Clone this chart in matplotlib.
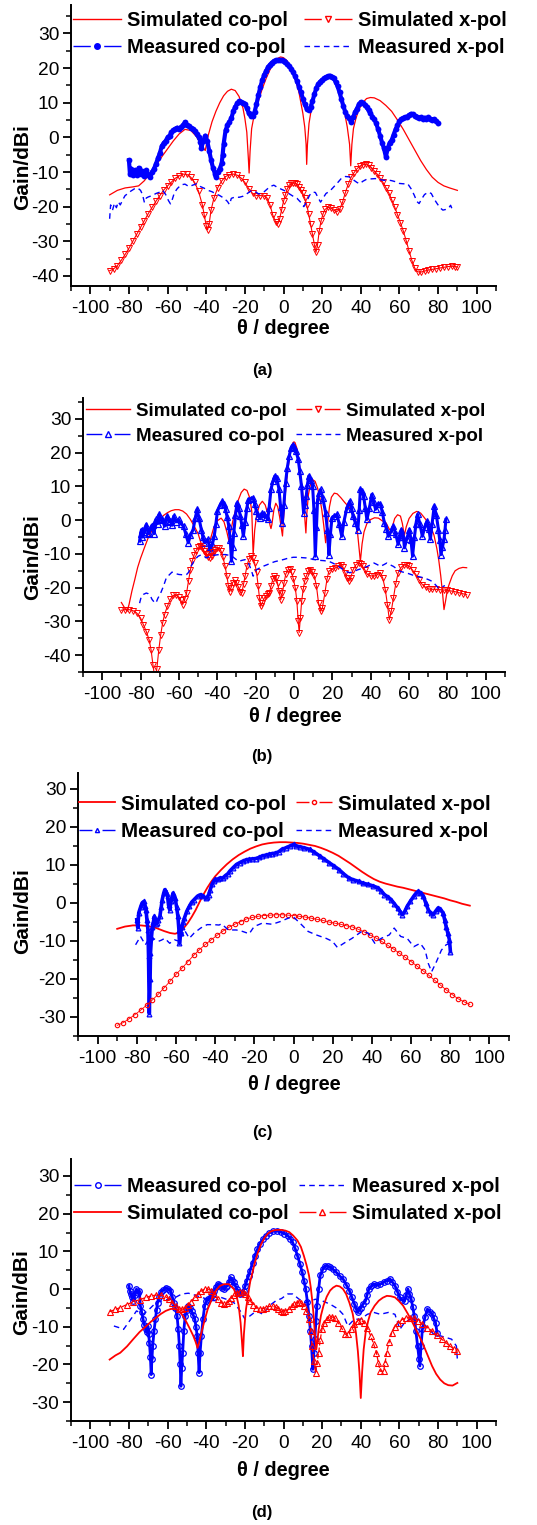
import matplotlib
matplotlib.use("Agg")
import matplotlib.pyplot as plt
from matplotlib.lines import Line2D
from matplotlib.ticker import MultipleLocator

W, H = 537, 1525
RED, BLUE = "#ff0000", "#0000ff"
plt.rcParams["font.family"] = ["Liberation Sans", "DejaVu Sans"]
plt.rcParams["axes.unicode_minus"] = False

# ---------------- panel (a) ----------------
A_SIM_CO = [(-90, -16.6), (-86, -15.3), (-82, -14.6), (-78, -14.3), (-75, -14.0), (-72, -12.5),
            (-69, -10.2), (-66, -8.1), (-63, -5.6), (-60, -3.3), (-57, -1.0), (-54, 1.0), (-51, 2.3),
            (-48, 2.0), (-45, 0.2), (-42, -2.8), (-40.5, -3.8), (-39, 0.5), (-37, 4.5), (-35, 7.5),
            (-33, 10.0), (-31, 12.0), (-29, 13.3), (-27, 13.9), (-25, 13.5), (-23, 11.8), (-21, 8.5),
            (-20, 5.5), (-19, 1.5), (-18.2, -6), (-17.8, -10.3), (-17.3, -4), (-16.5, 2.5), (-15, 7),
            (-13, 10.5), (-11, 14), (-9, 17), (-7, 19.5), (-5, 21.5), (-3, 22.8), (-1.5, 23.2), (0, 23),
            (2, 22), (4, 20), (6, 17), (8, 13), (10, 7), (11, 3), (11.7, -2), (12, -7.8), (12.4, -2),
            (13.2, 4), (14.5, 8.5), (16, 12), (18, 15), (20, 16.8), (22, 17.5), (24, 17.7), (26, 16.8),
            (28, 14.5), (30, 11), (31.5, 7.5), (33, 3), (34.2, -2), (34.8, -8.2), (35.4, -2), (36.2, 2.5),
            (37.5, 5.5), (39, 8), (41, 10), (43, 11.2), (45, 11.5), (47, 11.4), (50, 10.6), (53, 9.2),
            (56, 7.5), (59, 5), (62, 2.3), (65, -0.7), (68, -3.7), (71, -6.7), (74, -9.3), (77, -11.5),
            (80, -13), (83, -14), (86, -14.6), (90, -15.3)]

A_MEAS_CO = [(-80, -6.6), (-79.5, -10.5), (-79, -9), (-78, -11), (-77, -9.5), (-76, -10.8), (-75, -8.8),
             (-74, -10.5), (-73, -9.8), (-72, -11.2), (-71, -9.5), (-70, -10.8), (-69, -11.5), (-68, -10),
             (-67, -9), (-66, -7.6), (-65, -6), (-64, -4.5), (-63, -2.5), (-62, -1.6), (-61, -1), (-60, 0),
             (-59, 0.5), (-58, 1.5), (-57, 2), (-56, 2.5), (-55, 2.8), (-54, 2.3), (-53, 3), (-52, 3.5),
             (-51, 4.4), (-50, 3.5), (-49, 3.2), (-48, 2.8), (-47, 2.5), (-46, 1.7), (-45, 1), (-44, 0.2),
             (-43, -1.2), (-42.5, -3), (-41.5, -1), (-40.5, 0.5), (-39.5, -1), (-38.5, -3.8), (-37.5, -6.5),
             (-36.5, -8.8), (-35.5, -10.5), (-35, -11.5), (-34, -10), (-33, -9), (-32, -7.5), (-31.5, -5),
             (-31, -2), (-30, 2), (-29, 3.5), (-28, 4.5), (-27, 5.5), (-26, 7.5), (-25, 8.8), (-24, 9.8),
             (-23, 10.4), (-22, 10.3), (-21, 9.8), (-20, 9.5), (-19, 8.5), (-18, 7), (-17, 6.2), (-16, 6.3),
             (-15, 7.3), (-14, 9.5), (-13, 12.2), (-12, 14.5), (-11, 16.5), (-10, 18), (-9, 19.2),
             (-8, 20.3), (-7, 21), (-6, 21.6), (-5, 22), (-4, 22.2), (-3, 22.3), (-2, 22.3), (-1, 22.2),
             (0, 22), (1, 21.7), (2, 21.2), (3, 20.6), (4, 19.8), (5, 18.8), (6, 17.6), (7, 16.2), (8, 14.6),
             (9, 13), (10, 11.2), (11, 9.5), (12, 8.2), (13, 8.0), (14, 8.8), (15, 10.4), (16, 12.5),
             (17, 14.2), (18, 15.4), (19, 16.1), (20, 16.6), (21, 17), (22, 17.4), (23, 17.6), (24, 17.8),
             (25, 17.5), (26, 17), (27, 16), (28, 14.7), (29, 13), (30, 11), (31, 9), (32, 7.3), (33, 6.2),
             (34, 5.5), (35, 4.4), (36, 5.8), (37, 7.2), (38, 8.3), (39, 9.5), (40, 10.2), (41, 10),
             (42, 9.4), (43, 8.7), (44, 7.8), (45, 7), (46, 6), (47, 5.2), (48, 4), (49, 2.3), (50, 0.5),
             (51, -1.5), (52, -3.2), (53, -5.6), (54, -3), (55, -1.5), (56, -0.8), (57, 0.8), (58, 2.3),
             (59, 3.5), (60, 4.6), (61, 5.2), (62, 5.6), (63, 5.8), (64, 6), (65, 6.4), (66, 6.8),
             (67, 6.7), (68, 6.3), (69, 6), (70, 5.6), (71, 5.8), (72, 5.4), (73, 5.7), (74, 5.2),
             (75, 5.8), (76, 5.4), (77, 5.1), (78, 5.3), (79, 4.6), (80, 4.0)]

A_SIM_X = [(-90, -38.5), (-88, -38), (-86, -37), (-84, -35.5), (-82, -33.8), (-80, -32), (-78, -30),
           (-76, -28), (-74, -26), (-72, -24), (-70, -22), (-68, -20.2), (-66, -18.4), (-64, -16.8),
           (-62, -15.2), (-60, -14), (-58, -12.9), (-56, -11.8), (-54, -11.1), (-52, -10.6), (-50, -10.7),
           (-48, -11.5), (-46, -13), (-44, -15.5), (-42, -19.5), (-41, -22.5), (-40, -25.5), (-39.3, -26.7),
           (-38.5, -25), (-37.5, -21), (-36, -17.5), (-34, -14.5), (-32, -12.6), (-30, -11.3), (-28, -10.8),
           (-26, -10.6), (-24, -10.9), (-22, -11.7), (-20, -13), (-18, -14.8), (-16, -16.2), (-14, -16.8),
           (-12, -16.8), (-10, -16.9), (-8.5, -17.5), (-7, -19.5), (-5.5, -22.5), (-4, -24.5), (-3, -25),
           (-2, -23.5), (-1, -21), (0, -18.5), (1, -16.5), (2, -14.8), (3, -13.8), (4, -13.3), (5, -13.1),
           (6, -13.2), (7, -13.5), (8, -14.3), (9, -15.2), (10, -16.2), (11, -17.5), (12, -19.5), (13, -22),
           (14, -25), (15, -28), (16, -31), (16.8, -33.2), (17.6, -31), (18.5, -27), (19.5, -24),
           (20.5, -22), (21.5, -20.8), (23, -20.2), (24.5, -20.4), (26, -21), (27.5, -21.5), (29, -20.8),
           (30.5, -18.8), (32, -16), (33.5, -13.5), (35, -11.5), (36.5, -10.2), (38, -9.1), (39.5, -8.3),
           (41, -7.9), (42.5, -7.8), (44, -8.1), (45.5, -8.7), (47, -9.7), (48.5, -10.6), (50, -11.8),
           (51.5, -13), (53, -14.5), (54.5, -16), (56, -18), (57.5, -20), (59, -22.3), (60.5, -24.6),
           (62, -27), (63.5, -29.8), (65, -32.8), (66.5, -35.6), (68, -37.8), (69.5, -38.8), (71, -38.9),
           (73, -38.6), (75, -38.3), (77, -38.1), (79, -37.9), (81, -37.7), (83, -37.5), (85, -37.3),
           (87, -37.2), (89, -37.3), (90, -37.4)]

A_MEAS_X = [(-90, -23.5), (-89.5, -19.5), (-88.5, -21), (-87.5, -19), (-86.5, -20.3), (-85.5, -18.6),
            (-84.5, -19.5), (-83, -17.8), (-82, -16.8), (-80.5, -16.2), (-79, -15.5), (-77, -14.8),
            (-75.5, -14.6), (-74, -15.3), (-73, -16.5), (-72, -18.8), (-71, -17.5), (-70, -17.2),
            (-68, -16.8), (-66, -16.2), (-64, -15.8), (-62.5, -15.3), (-61, -16.5), (-59.5, -18.3),
            (-58.5, -19.2), (-57.5, -17.8), (-56.5, -16), (-55, -14.8), (-53, -13.7), (-51, -13.5),
            (-49, -14.2), (-47, -13.8), (-45, -13.4), (-43, -14.2), (-41, -14.7), (-39, -15.3), (-37, -15.7),
            (-35, -16.3), (-33, -16.8), (-31, -17.5), (-29, -18.5), (-28, -19.4), (-27, -17.6), (-25, -17.2),
            (-23, -17.3), (-21, -17), (-19, -16.3), (-17, -15.5), (-15, -15.5), (-13, -16.3), (-11, -16.2),
            (-9, -15.2), (-7, -14.2), (-5, -13.8), (-3, -14.5), (-1, -15), (1, -15.5), (3, -16.3), (5, -17),
            (7, -17.6), (9, -18.8), (10.5, -20), (12, -18.5), (13.5, -16.7), (15, -15.8), (16.5, -15.9),
            (18, -17.5), (19.2, -18.7), (20.5, -17.5), (22, -16.2), (24, -15.5), (26, -14.3), (28, -13.1),
            (30, -11.8), (32, -11.3), (34, -11.4), (36, -12.2), (38, -13), (39.5, -13.4), (41, -12.7),
            (43, -12.1), (45, -12), (47.5, -11.9), (50, -12.2), (52, -12.4), (54, -12.3), (56, -12.5),
            (58, -12.8), (60, -13.3), (62, -13.4), (64.3, -13.4), (66, -14.8), (67.7, -16.7), (69, -18.5),
            (70.2, -19.1), (71.5, -17.8), (73, -16.5), (75, -15.8), (76.5, -16.2), (78, -17.8),
            (79.5, -19.1), (81, -20.3), (82.5, -21), (84, -20.8), (85.5, -20.4), (86.5, -19.6), (87.5, -21)]

# ---------------- panel (b) ----------------
B_SIM_CO = [(-90, -24.4), (-88.5, -25.8), (-87, -27), (-86, -25), (-84.5, -21), (-83, -17.6), (-81.5, -14),
            (-80, -11.3), (-78, -8.2), (-76, -5.2), (-74, -3), (-72, -1.2), (-70, 0.3), (-68, 1.4), (-66, 2.2),
            (-64, 2.8), (-62, 3.1), (-60, 3.1), (-58, 2.7), (-56, 1.8), (-54, 0.2), (-52, -1.8), (-50, -4),
            (-48.5, -6.7), (-47, -9.5), (-46, -10.5), (-45, -9), (-43.5, -5.5), (-42, -2.5), (-40, -0.2),
            (-38, 0.6), (-36.5, -0.5), (-35, -3.5), (-34, -6), (-33, -3.5), (-32, -0.5), (-30.5, 3),
            (-29, 6), (-27.5, 8.2), (-26, 9.2), (-24.5, 8.8), (-23, 6.5), (-22, 2.5), (-21.3, -10.2),
            (-20.5, -3), (-19.5, 1.5), (-18, 4.5), (-16.5, 5.6), (-15, 4.5), (-13.5, 1.5), (-12.5, -1.5),
            (-12, -2.5), (-11.5, -1.2), (-10.5, 3), (-9.5, 5), (-8.5, 4), (-7.5, 1), (-6.6, -2.5),
            (-6, -4.7), (-5.5, 0), (-4.5, 8), (-3.5, 13.5), (-2.5, 18), (-1.5, 21.3), (-0.5, 23), (0, 23.2),
            (0.5, 23), (1.5, 21.3), (2.5, 18), (3.5, 13), (4.5, 8), (5.3, 3), (5.8, -1), (6.2, -3.8),
            (6.7, 2), (7.5, 7.5), (8.5, 10.5), (9.7, 12), (11, 11.5), (12.3, 9.5), (13.5, 6.5), (14.5, 3),
            (15.5, -1.5), (16.5, -6.7), (17.5, -1), (18.5, 4), (19.5, 6.8), (21, 8), (22.5, 7.8),
            (24.5, 6.6), (26.5, 5.2), (28.5, 4), (30.5, 2.6), (32, 0.5), (33, -3), (33.8, -7.5),
            (34.6, -12.2), (35.5, -7), (36.5, -3.5), (38, -1), (40, 0.2), (42, 0.7), (44, 0.6), (46, -0.2),
            (48, -0.8), (49.5, -2.5), (50.5, -3.2), (51.5, -1.5), (52.5, 0.5), (54, 1.6), (55.5, 1.2),
            (56.5, -1), (57.5, -4.6), (58.5, -2), (60, 0.5), (62, 2), (64, 2.6), (66, 2.1), (68, 0.7),
            (70, -0.8), (71.5, -2.2), (73, -4.5), (74.5, -8.5), (75.5, -12), (76.5, -16.5), (77.5, -22),
            (78.2, -26.5), (79, -24), (80, -20.5), (81.2, -18.5), (82.5, -16.5), (84, -15), (86, -14.3),
            (88, -14), (90, -14.1)]

B_MEAS_CO = [(-80.5, -6.2), (-80, -4), (-79.5, -2.8), (-79, -5), (-78, -3.5), (-77, -1.3), (-76, -4),
             (-75.4, -3.8), (-74.5, -2), (-73.7, -1.3), (-73, -4), (-72, 0.2), (-71, -1), (-70.3, 1.7),
             (-69.5, 0), (-68.6, 0.2), (-67.5, -1.8), (-66, 1.2), (-65, -0.5), (-64.4, -0.3), (-63.5, -1.5),
             (-62.7, 1.2), (-61.5, -0.5), (-60.2, 0.2), (-59, -1), (-57.6, -1.8), (-56.5, -4), (-55.1, -6.7),
             (-54, -4.5), (-52.6, -2.8), (-51.5, 0.5), (-50.5, 3.2), (-49.5, 0.5), (-48.3, -2.8),
             (-47.5, -5), (-46.7, -6.7), (-45, -5.7), (-44, -8), (-43.3, -9.2), (-42.5, -7), (-41.6, -4.8),
             (-40.7, -1), (-39.9, 2.7), (-38.5, 4.5), (-37.3, 5.6), (-36.5, 4.8), (-35.7, 3.2), (-34.8, 0.8),
             (-34, -1.8), (-33.2, -6), (-32.6, -12.2), (-32, -8), (-31.4, -3.8), (-30.5, 1.5), (-29.7, 5.1),
             (-28.8, 3.5), (-28, 1.2), (-27.2, -1.5), (-26.4, -4.8), (-25.5, -0.5), (-24.6, 3.5),
             (-23.8, 6.1), (-22.5, 6.4), (-21.3, 6.6), (-20.5, 4.8), (-19.6, 2.7), (-18.8, 1.2),
             (-17.9, 0.7), (-16.8, 2), (-15.7, 1.7), (-14.7, 1), (-13.7, 0.2), (-13, 3.5), (-12, 9.1),
             (-11, 11.5), (-10, 13.1), (-9, 12.5), (-7.8, 9.1), (-7, 4), (-6.1, -0.8), (-5.3, 4.5),
             (-4.4, 11.1), (-3.5, 15.5), (-2.5, 19), (-1.5, 21.5), (-0.7, 22.3), (0.2, 21.8), (1, 20.5),
             (2.2, 18), (3, 14.5), (3.9, 10.1), (5, 2.2), (5.7, 4.5), (6.4, 7.1), (7, 10.5), (7.7, 13.1),
             (8.7, 12), (9.7, 10.1), (10.4, 3), (11.1, -10.7), (11.7, -2), (12.3, 6.1), (13.1, 8),
             (13.9, 9.1), (15, 6.5), (16.5, 2.2), (17.4, -3), (18.2, -10.2), (19, -4), (19.8, 0.7), (21, 1.2),
             (22.4, 1.7), (23.5, -1), (24.9, -4.8), (26, -0.5), (27.4, 3.2), (28.3, 4.5), (29.1, 5.6),
             (30, 3.5), (30.8, 1.2), (32, -0.8), (33.3, -2.8), (34, 3), (34.6, 9.1), (35.5, 8.5), (36.3, 7.1),
             (37.2, 3.5), (38, 0.2), (39.3, 3.5), (40.5, 7.6), (41.5, 5.5), (42.5, 3.2), (43.7, 4.8),
             (45, 4.7), (46, 2.5), (47.1, -0.8), (48.2, -2.5), (49.2, -4.8), (50.5, -3.5), (51.8, -1.8),
             (53, -4), (54.3, -7.2), (55.2, -5), (56, -2.8), (57, -5), (57.6, -8.2), (58.8, -5.5),
             (60.2, -2.8), (61, -6), (61.8, -10.7), (62.8, -5), (63.6, -1), (64.4, 1.7), (65.6, -1),
             (66.9, -4.8), (68.2, -2), (69.4, -0.3), (70.3, -2.5), (71.1, -5.7), (72, -1), (73.1, 4.2),
             (74.2, 1.5), (75.3, -2.8), (76, -6), (76.6, -10.2), (77.4, -8), (78.2, -5.7), (78.7, -3),
             (79.2, 0.2)]

B_SIM_X = [(-90, -26.7), (-88, -26.5), (-86, -26.5), (-84, -26.8), (-82, -27.5), (-80, -29), (-78.5, -31),
           (-77, -33), (-75.5, -35.5), (-74.5, -38.5), (-73.5, -43), (-72.5, -47), (-71.5, -44),
           (-70.5, -38.5), (-69.5, -34), (-68.5, -30.5), (-67.5, -28), (-66, -25.5), (-64.5, -23.5),
           (-63, -22.3), (-61.5, -22.2), (-60, -22.8), (-59, -23.8), (-58, -25), (-57, -23.5), (-56, -21.6),
           (-55, -18), (-54, -14.7), (-53, -12), (-52, -10.2), (-51, -9), (-50, -8.1), (-49, -7.8),
           (-48, -8.2), (-47, -9), (-46, -10), (-45, -10.9), (-44, -11.3), (-43, -10.5), (-42, -9.5),
           (-41, -8.9), (-40, -8.4), (-39, -8.3), (-38, -9.2), (-37, -11), (-36, -13.5), (-35, -16.5),
           (-34.2, -19.5), (-33.6, -21.2), (-32.8, -20), (-32, -18.5), (-31, -17.8), (-30, -18.5),
           (-29, -19.8), (-28, -21.3), (-27.2, -21.5), (-26.3, -19), (-25.5, -16.5), (-24.5, -13.5),
           (-23.5, -11.5), (-22.5, -10.7), (-21.5, -11.2), (-20.5, -12.7), (-19.5, -15.5), (-18.7, -19.6),
           (-18, -23), (-17.4, -25.5), (-16.5, -24.5), (-15.5, -23.1), (-14.5, -22.5), (-13.5, -22),
           (-12.8, -21.6), (-12, -19.5), (-11, -17.5), (-10.3, -16.6), (-9.5, -17), (-8.6, -18.6),
           (-7.8, -21), (-6.9, -23.6), (-6, -21.5), (-5.2, -18.6), (-4.3, -16), (-3.3, -14.8), (-2.3, -14.6),
           (-1.3, -15.5), (-0.3, -17.5), (0.7, -20.2), (1.5, -24), (2.2, -30), (2.7, -33.3), (3.3, -29),
           (4, -24), (4.8, -20.5), (5.6, -18), (6.4, -16.6), (7.4, -15.2), (8.4, -14.7), (9.5, -15.3),
           (10.6, -16.6), (11.7, -19.5), (12.8, -24.6), (13.9, -27), (14.8, -26), (16.1, -21.6),
           (17.2, -17.5), (18.2, -15.1), (19.8, -14.6), (21.5, -14.2), (23, -13.7), (24.5, -13.2),
           (25.6, -14), (26.6, -15.6), (27.6, -17), (28.6, -18.1), (29.6, -17), (30.8, -14.7),
           (32.3, -13.2), (33.8, -12.7), (35, -13), (35.8, -13.7), (37, -14.8), (38.3, -16.1), (40, -16.5),
           (41.7, -16.6), (43.4, -16.2), (45, -15.6), (46.3, -17.2), (47.6, -20.6), (48.7, -25),
           (49.7, -29.5), (50.7, -27), (51.8, -23.1), (53, -19), (54.3, -15.6), (55.8, -14), (57.6, -13.2),
           (59, -13.3), (60.2, -13.7), (61.8, -14.8), (63.5, -16.1), (65.2, -17.7), (66.9, -19.1),
           (68.6, -19.9), (70.3, -20.4), (72, -20.5), (74, -20.5), (76, -20.6), (78, -20.7), (80, -20.8),
           (82, -21), (84, -21.2), (86, -21.5), (88, -21.8), (90, -22.1)]

B_MEAS_X = [(-80.5, -24.6), (-79.6, -22.6), (-78.5, -22), (-77, -21.6), (-76, -21.8), (-75, -22.3),
            (-74, -23.5), (-73, -24.2), (-72, -24.6), (-71, -23.2), (-69.5, -21.6), (-68, -19.5),
            (-66.5, -17), (-65, -16.2), (-63.6, -15.4), (-62, -15.8), (-60, -16.1), (-58, -16.2),
            (-56, -16.1), (-55, -15.5), (-53.5, -13.5), (-51.7, -11.7), (-50, -10.7), (-48.5, -10.3),
            (-47, -10.6), (-45.8, -11.2), (-44, -10.8), (-42.4, -10.5), (-40.5, -10.3), (-39, -10.2),
            (-37, -10.2), (-35.7, -10.2), (-34, -10.4), (-32.3, -10.7), (-30.5, -11.5), (-28.9, -12.2),
            (-27, -11.9), (-25.5, -11.7), (-24, -12.5), (-23, -13.7), (-22, -15.3), (-21.3, -16.6),
            (-20.5, -15.5), (-19.6, -14.7), (-18, -14.2), (-16.2, -13.7), (-14, -13.2), (-12, -12.7),
            (-10, -12.3), (-7.8, -12), (-5, -11.6), (-2.7, -11.2), (-0.3, -11), (2, -11), (4, -11.1),
            (6.4, -11.2), (9, -11.5), (11, -11.7), (13.1, -11.9), (15.5, -12), (18.2, -12.2), (20.5, -12.8),
            (23.2, -13.7), (25, -14.4), (26.6, -15.1), (29.1, -15.6), (31, -15.2), (33.3, -14.7),
            (36, -14.2), (38.3, -13.7), (40, -13.2), (41.7, -12.7), (43.5, -13.2), (45, -13.7),
            (46.8, -13.2), (48.4, -12.7), (50, -13.2), (51.8, -13.7), (53.5, -14.4), (55.1, -15.1),
            (56.8, -15.4), (58.5, -15.6), (61, -16.1), (63.5, -16.6), (65.5, -16.8), (67.7, -17.1),
            (70, -17.6), (71.9, -18.1), (73.5, -19), (75.3, -20.1), (77, -19.8), (78.7, -19.4)]

# ---------------- panel (c) ----------------
C_SIM_CO = [(-90, -6.8), (-86, -6.2), (-82, -5.9), (-78, -5.9), (-74, -6.1), (-70, -6.6), (-66, -7.4),
            (-63, -7.9), (-60.5, -8.1), (-58.5, -7.8), (-56.5, -6.9), (-54, -5.3), (-52, -3.7), (-50, -1.9),
            (-48, 0.2), (-46, 2.2), (-44, 4), (-42, 5.6), (-40, 7), (-37, 8.7), (-34, 10.2), (-31, 11.5),
            (-28, 12.6), (-25, 13.5), (-22, 14.3), (-19, 14.9), (-16, 15.4), (-13, 15.7), (-10, 15.9),
            (-7, 16), (-4, 16), (-1, 15.9), (2, 15.8), (5, 15.6), (8, 15.3), (11, 15), (14, 14.5),
            (17, 13.9), (20, 13.2), (23, 12.4), (26, 11.4), (29, 10.4), (32, 9.3), (35, 8.2), (38, 7.2),
            (41, 6.3), (44, 5.6), (47, 5.1), (50, 4.7), (53, 4.3), (56, 4), (59, 3.6), (62, 3.2), (65, 2.8),
            (68, 2.4), (71, 2), (74, 1.6), (77, 1.2), (80, 0.7), (83, 0.3), (86, -0.2), (90, -0.7)]

C_MEAS_CO = [(-80, -4.4), (-79.5, -6.5), (-79, -2.6), (-78, -1), (-77.3, 0), (-76.4, 0.4), (-75.8, -0.8),
             (-75.3, -1.8), (-74.8, -4.5), (-74.3, -7.1), (-74, -14), (-73.6, -29.1), (-73.2, -20),
             (-73, -13.2), (-72.5, -9), (-72, -6.2), (-71.5, -5), (-71, -3.5), (-70.4, -5.5), (-69.8, -5.3),
             (-69, -4.5), (-68.2, -3.5), (-67.5, -1), (-67, 0.9), (-66.3, 2.5), (-65.7, 3.5), (-65, 3),
             (-64.3, 1.8), (-63.8, -0.5), (-63.2, -1.8), (-62.5, 0.5), (-61.5, 2.6), (-60.4, 1.3),
             (-59.7, -1), (-59, -3.5), (-58.5, -7), (-58.2, -10.6), (-57.6, -8), (-57, -6.2), (-56.3, -5),
             (-55.7, -4), (-54.5, -2.2), (-53.2, -0.9), (-52, 0.2), (-50.7, 0.9), (-49, 1.8), (-47.4, 2.2),
             (-46, 1.8), (-44.9, 1.3), (-44, 1.5), (-43.3, 2.2), (-42.5, 3.5), (-41.6, 4.9), (-40.8, 5.7),
             (-40, 6.2), (-38.5, 6.3), (-37.5, 6.6), (-36, 6.6), (-35, 7.1), (-33.5, 7.7), (-32.5, 8.4),
             (-31, 9.2), (-29.2, 10.1), (-27.5, 10.6), (-25.9, 11), (-24, 11.4), (-22.6, 11.5), (-21, 11.6),
             (-19.2, 11.7), (-17.5, 12), (-15.9, 12.4), (-14, 12.6), (-12.6, 12.8), (-11, 13), (-9.3, 13.1),
             (-7.5, 13.5), (-6, 14.1), (-4, 14.5), (-1.8, 15), (0, 15.4), (1.5, 15), (3.3, 14.8),
             (5.5, 14.5), (8.3, 14.1), (10.5, 13.4), (13.3, 12.4), (15.8, 11.5), (18.2, 10.6), (20.5, 9.8),
             (23.2, 8.8), (25.5, 7.7), (28.2, 6.6), (30.5, 6.1), (33.2, 5.7), (35.5, 5.2), (38.1, 4.9),
             (40.5, 4.5), (43.1, 4), (44.8, 3.2), (46.4, 2.2), (48.2, 1.6), (49.8, 0.9), (51.5, -0.2),
             (53.1, -1.3), (54.5, -2.3), (55.6, -3.1), (56.8, -2.2), (58, -0.9), (59.7, 0.5), (61.4, 1.8),
             (62.6, 2.6), (63.8, 3.1), (65, 2.6), (66.3, 1.8), (67.5, 0), (68.8, -1.8), (70, -2.6),
             (71.3, -3.1), (72.5, -2.2), (73.8, -1.3), (75, -1.6), (76.3, -2.6), (77.2, -4.5), (77.9, -6.2),
             (78.8, -8), (79.6, -9.7), (80.1, -12.8)]

C_SIM_X = [(-90, -32.2), (-87, -31.5), (-84, -30.5), (-81, -29.4), (-78, -28.2), (-75, -26.9), (-72, -25.5),
           (-69, -24), (-66, -22.3), (-63, -20.6), (-60, -18.8), (-57, -17.2), (-54, -15.5), (-51, -13.8),
           (-48, -12.3), (-45, -10.9), (-42, -9.7), (-39, -8.5), (-36, -7.4), (-33, -6.4), (-30, -5.6),
           (-27, -4.9), (-24, -4.2), (-21, -3.8), (-18, -3.5), (-15, -3.3), (-12, -3.2), (-9, -3.1),
           (-6, -3.1), (-3, -3.2), (0, -3.3), (3, -3.5), (6, -3.7), (9, -4), (12, -4.3), (15, -4.6),
           (18, -5), (21, -5.3), (24, -5.6), (27, -6), (30, -6.3), (33, -6.9), (36, -7.6), (39, -8.4),
           (42, -9.2), (45, -10.1), (48, -11.1), (51, -12.1), (54, -13.2), (57, -14.3), (60, -15.4),
           (63, -16.6), (66, -17.8), (69, -19), (72, -20.3), (75, -21.6), (78, -22.9), (81, -24.1),
           (84, -25.2), (87, -26), (90, -26.7)]

C_MEAS_X = [(-80.6, -11), (-78.1, -8.8), (-75.6, -11), (-73.1, -8.8), (-71, -9.5), (-69, -10.1),
            (-67.5, -9.8), (-65.7, -9.3), (-63.2, -10.6), (-60.7, -9.7), (-58.2, -10.1), (-55.7, -7.1),
            (-53.2, -9.3), (-50.7, -7.9), (-47.4, -6.6), (-44.1, -5.7), (-40.8, -5.7), (-38, -5.8),
            (-36.7, -5.5), (-33.3, -7.1), (-29.2, -7.1), (-25.9, -7.5), (-22.6, -8.1), (-20.1, -6.2),
            (-15.9, -5.3), (-10.9, -5.6), (-6.8, -4.9), (-2.7, -4), (0, -3.7), (3.3, -5.3), (7.5, -7.5),
            (11.6, -8.4), (16.6, -9.3), (19.9, -10.1), (22.4, -11.7), (25.7, -10.6), (29.9, -9.3),
            (34.8, -7.5), (38.1, -7.9), (41.5, -10.6), (44.8, -9.3), (48.9, -8.4), (51.4, -6.6),
            (54.7, -8.8), (58, -9.3), (61.4, -11.5), (64.7, -10.6), (67.2, -12.4), (68.8, -15.9),
            (70.5, -18.1), (73, -15.4), (75.5, -12.4), (77.9, -11), (79.9, -10.6)]

# ---------------- panel (d) ----------------
D_MEAS_CO = [(-80, 0.9), (-79.5, -0.5), (-79, -1.3), (-78.5, -2), (-77.8, -3.1), (-77, -1.5), (-76.1, 0),
             (-75.4, -1), (-74.7, -0.4), (-74.1, -4.4), (-73.5, -6), (-72.7, -8), (-72, -9.5), (-71.4, -10.7),
             (-70.8, -11.5), (-70.2, -9.8), (-69.8, -12), (-69.4, -14.2), (-68.9, -18), (-68.5, -22.7),
             (-68.1, -18.5), (-67.7, -15.1), (-67, -11), (-66.3, -8), (-65.7, -5.5), (-65.2, -3.6),
             (-64.3, -2), (-63.5, -0.9), (-62.3, -0.2), (-61, 0.4), (-59.8, 0), (-58.5, -0.4), (-57.6, -2),
             (-56.8, -3.6), (-56, -5), (-55.1, -7.1), (-54.5, -10.5), (-53.9, -15.1), (-53.5, -20),
             (-53.1, -25.8), (-52.7, -21), (-52.2, -16.9), (-51.6, -11), (-50.9, -7.1), (-50, -5.5),
             (-49.2, -4.4), (-48.4, -5), (-47.6, -5.8), (-46.8, -6.8), (-45.9, -8), (-45.3, -10),
             (-44.7, -12.4), (-44.2, -17), (-43.7, -22.2), (-43.2, -17), (-42.5, -12.4), (-41.7, -8),
             (-40.8, -4.4), (-40, -3.3), (-39.2, -2.7), (-38.3, -2.5), (-37.5, -2.2), (-36.6, -1.2),
             (-35.8, -0.4), (-35, 0.5), (-34.1, 1.3), (-33.2, 1.2), (-32.4, 0.9), (-31.6, 0.3), (-30.8, 0),
             (-30, 0.5), (-29.1, 0.9), (-28.2, 2), (-27.4, 3.1), (-26.5, 2.5), (-25.7, 1.8), (-24.9, 0.8),
             (-24.1, 0), (-23.2, -0.7), (-22.4, -1.3), (-21.5, -1), (-20.7, -0.4), (-19.8, 0.8), (-19, 2.2),
             (-18.1, 3.5), (-17.3, 4.9), (-16, 6.9), (-14.8, 8.9), (-13.5, 10.5), (-12.3, 12), (-10.6, 13.2),
             (-9, 14.2), (-7.3, 14.9), (-5.6, 15.3), (-3.5, 15.4), (-1.2, 15.1), (0.5, 14.7), (2.2, 14.2),
             (3.5, 13.4), (4.7, 12.4), (6, 10.8), (7.2, 8.9), (8.5, 6.7), (9.7, 4.4), (10.6, 2.2),
             (11.5, 0), (12.4, -3.5), (13.2, -7.1), (13.9, -11), (14.5, -15.1), (15.2, -21.3), (15.7, -17),
             (16.2, -13.3), (16.8, -8.5), (17.3, -4.4), (18.2, 0), (19, 3.6), (20.3, 5.2), (21.6, 6.2),
             (22.8, 6.1), (24.1, 5.8), (25.7, 5.2), (27.4, 4.4), (29, 3.5), (30.8, 2.7), (32.4, 1.2),
             (34.1, -0.4), (35.4, -2.2), (36.7, -4), (37.6, -5.2), (38.4, -6.2), (39.2, -5.5), (40, -4.9),
             (41.2, -4), (42.5, -3.1), (43.3, -1.5), (44.2, 0), (45.5, 0.8), (46.8, 1.3), (48.4, 1),
             (50.1, 1.3), (51.8, 1.8), (53.5, 2.2), (55.1, 2.7), (56.4, 1.8), (57.7, 0.9), (59, -0.7),
             (60.2, -2.2), (61.5, -3), (62.7, -3.1), (63.6, -1.5), (64.4, 0), (65.2, -1.3), (66.1, -2.7),
             (66.9, -4.8), (67.7, -7.1), (68.5, -11), (69.4, -15.1), (70.1, -18.5), (70.6, -20.4),
             (71.2, -15), (71.9, -10.7), (73.2, -7.5), (74.5, -5.3), (75.8, -6), (77, -6.7), (77.8, -7.8),
             (78.7, -8.9), (79.5, -11.6)]

D_MEAS_X = [(-87.8, -9.8), (-85.3, -10.2), (-82.8, -10.7), (-80.3, -8.9), (-77.8, -7.1), (-76.1, -5.8),
            (-74.4, -6.2), (-72.7, -6.7), (-71, -6), (-69.4, -5.3), (-66, -3.6), (-62.7, -3.1), (-59.3, -2.7),
            (-55.9, -2.2), (-52.6, -1.3), (-49.2, -1.1), (-45.9, -1.6), (-42.5, -2.2), (-39.2, -2.7),
            (-35.8, -3.1), (-32.4, -2.2), (-29.1, -2.8), (-25.7, -3.6), (-22.4, -5.8), (-19.9, -8),
            (-17.3, -7.1), (-14, -5.8), (-10.6, -6.7), (-7.3, -4.4), (-3.9, -3.1), (-1, -2.5), (2.2, -1.3),
            (4.7, -1.3), (8.1, -2.7), (11.5, -3.6), (16.5, -2.7), (19.9, -3.1), (24.1, -4), (28.3, -5.3),
            (30.8, -6.7), (33.3, -9.8), (36.7, -8), (40, -8), (43.4, -6.7), (46.8, -6.2), (50.1, -6.7),
            (54.3, -6.2), (57.7, -6.7), (60.2, -10.7), (62.7, -8.9), (66.9, -7.6), (71.1, -8.4),
            (74.5, -10.2), (77.8, -12), (81.1, -12.4), (84.5, -12.9), (87, -13.3), (89.5, -15.1), (90, -18.7)]

D_SIM_CO = [(-90, -18.7), (-87, -17.6), (-84.5, -16.9), (-81, -15.2), (-77.8, -13.3), (-74.5, -11.4),
            (-71, -9.8), (-68.5, -8.6), (-66, -7.6), (-63.5, -6.6), (-61, -5.8), (-58.5, -5.3), (-56.8, -5.2),
            (-55, -5.5), (-53.4, -6.2), (-51.7, -7.4), (-50.1, -8.9), (-48.4, -10.6), (-46.7, -12.4),
            (-45.5, -14), (-44.5, -15.6), (-43.5, -13.8), (-42.5, -11.6), (-40.8, -8.2), (-39.2, -5.3),
            (-37, -2.6), (-35, -0.4), (-33, 0.8), (-30.8, 1.3), (-28.3, 1.3), (-25.7, 0), (-24.3, -1.8),
            (-23.2, -4.4), (-22.2, -9), (-21.5, -14), (-21, -17.8), (-20.5, -12), (-19.9, -8), (-19.4, -5.3),
            (-18.3, -1.5), (-17.3, 1.8), (-16, 4.5), (-14.8, 7.1), (-13.2, 9.8), (-11.5, 12), (-9.8, 13.6),
            (-8.1, 14.7), (-6.5, 15.3), (-4.8, 15.6), (-3, 15.7), (-1.2, 15.7), (1, 15.5), (3, 15.1),
            (5, 14.2), (7.2, 12.9), (9, 11.2), (10.5, 8.9), (11.9, 6.4), (13.2, 3.6), (14.1, 0.5),
            (14.8, -2.7), (15.5, -6.5), (16.2, -11.5), (17, -16), (17.6, -13.5), (18.2, -10.7), (19.4, -7),
            (20.7, -4.4), (22.4, -2), (24.1, -0.4), (25.7, 0.4), (27.4, 0.9), (29.1, 0.7), (30.8, 0),
            (32.4, -1.3), (34.1, -3.6), (35.8, -6.5), (37.5, -11.6), (38.5, -16.5), (39.3, -22),
            (40, -28.9), (40.7, -22), (41.5, -16), (42.5, -11.6), (43.8, -8.5), (45.1, -6.2), (47.2, -4.4),
            (49.3, -3.1), (51.4, -2.3), (53.5, -1.8), (55.6, -1.9), (57.7, -2.2), (59.8, -3.2), (61.9, -4.4),
            (64.3, -6.5), (66.8, -8.9), (69.3, -11.5), (71.9, -14.2), (74.4, -17.3), (76.9, -20.4),
            (79, -22.5), (81.1, -24), (83.2, -25), (85.3, -25.5), (87.5, -25.6), (90, -24.9)]

D_SIM_X = [(-90, -6), (-87, -5.4), (-84.5, -4.9), (-81, -4.1), (-77.8, -3.4), (-74.5, -2.8), (-71, -2.2),
           (-68.5, -1.8), (-66, -1.6), (-63.5, -1.7), (-61, -2), (-59.3, -2.7), (-57.6, -3.6), (-55.9, -4.5),
           (-54.3, -5.2), (-52.6, -5.4), (-51, -5), (-49.5, -4.3), (-48, -3.4), (-46, -2.2), (-44.2, -1.3),
           (-42.5, -0.5), (-40.8, 0), (-39, 0), (-37.5, -0.4), (-36, -1.2), (-34.1, -2.7), (-32.5, -3.6),
           (-30.8, -4), (-29.5, -3.7), (-28.3, -3.1), (-27, -2.3), (-25.7, -1.6), (-24, -1), (-22.4, -0.7),
           (-21, -0.8), (-19.9, -1.3), (-18.5, -2.2), (-17.3, -3.1), (-15.6, -4.2), (-14, -4.9),
           (-12.3, -5.2), (-10.6, -5.2), (-9, -4.9), (-7.3, -4.6), (-5.6, -4.6), (-4, -4.8), (-2.9, -5.3),
           (-1.5, -5.8), (-0.3, -6), (1, -5.8), (3, -5.3), (4.3, -4.6), (5.5, -4), (6.8, -3.6), (8.1, -3.4),
           (9.3, -3.7), (10.5, -4.4), (11.8, -5.8), (13.2, -8), (14, -11), (14.8, -15.1), (15.7, -19),
           (16.6, -22.2), (17.4, -19.5), (18.2, -16.9), (19, -13.5), (19.9, -10.7), (21.1, -9), (22.4, -8),
           (23.7, -7.5), (24.9, -7.3), (26.6, -7.8), (28.3, -8.9), (30.1, -10.4), (32, -12), (33.5, -11.8),
           (35, -10.7), (36.7, -9.4), (38.4, -8.4), (40, -8.2), (41.7, -8.9), (43.4, -10.3), (45.1, -12.4),
           (46.6, -14.5), (48.1, -16.9), (49.1, -19.5), (50.1, -21.8), (51.8, -21.8), (52.6, -19.5),
           (53.4, -16.9), (54.7, -14), (56, -11.6), (57.6, -10), (59.3, -8.9), (61.4, -8.1), (63.5, -7.6),
           (65.6, -7.6), (67.7, -7.8), (69.8, -8.5), (71.9, -9.3), (74.4, -10.2), (76.9, -11.1),
           (79.4, -12.2), (81.9, -13.3), (84, -14.2), (86.1, -15.1), (88, -15.8), (90, -16.4)]

LABELS = {"sim_co": "Simulated co-pol", "sim_x": "Simulated x-pol",
          "meas_co": "Measured co-pol", "meas_x": "Measured x-pol"}

SIM_CO = dict(color=RED, lw=0.9)
MEAS_X = dict(color=BLUE, lw=1.0, dashes=(4, 3))


def xy(pts):
    return [p[0] for p in pts], [p[1] for p in pts]


fig = plt.figure(figsize=(W / 100, H / 100), dpi=100)


def panel(box, ylim, series, order, leg, ylab_xy, xlab_xy, cap_xy, cap):
    L, R, T, B = box
    ax = fig.add_axes([L / W, 1 - B / H, (R - L) / W, (B - T) / H])
    handles = {}
    for key, pts, style, hstyle in series:
        x, y = xy(pts)
        ax.plot(x, y, **style)
        handles[key] = Line2D([], [], **hstyle)
    ax.set_xlim(-110, 110)
    ax.set_ylim(*ylim)
    ax.xaxis.set_major_locator(MultipleLocator(20))
    ax.xaxis.set_minor_locator(MultipleLocator(10))
    ax.yaxis.set_major_locator(MultipleLocator(10))
    ax.yaxis.set_minor_locator(MultipleLocator(5))
    for s in ("top", "right"):
        ax.spines[s].set_visible(False)
    for s in ("left", "bottom"):
        ax.spines[s].set_linewidth(1.4)
    ax.tick_params(which="major", direction="out", length=6, width=1.3, labelsize=13.8, pad=2.5)
    ax.tick_params(axis="x", which="major", pad=4)
    ax.tick_params(which="minor", direction="out", length=3.5, width=1.1)
    ax.set_xticks(list(range(-100, 101, 20)))

    # legend: two columns, no frame
    lx, ly, fs, hl_px, col2_px, col1_end = leg
    fs_px = fs / 0.72
    ax.legend([handles[k] for k in order], [LABELS[k] for k in order], ncol=2, frameon=False,
              loc="upper left", bbox_to_anchor=(lx / W, 1 - (ly - 0.6 * fs_px + 4) / H),
              bbox_transform=fig.transFigure, borderpad=0, borderaxespad=0,
              prop=dict(weight="bold", size=fs), handlelength=hl_px / fs_px,
              handletextpad=6 / fs_px, columnspacing=(col2_px - col1_end) / fs_px,
              labelspacing=0.42, numpoints=1)

    fig.text(ylab_xy[0] / W, 1 - ylab_xy[1] / H, "Gain/dBi", rotation=90, ha="center", va="center",
             fontsize=15, fontweight="bold")
    fig.text(xlab_xy[0] / W, 1 - xlab_xy[1] / H, "θ / degree", ha="center", va="center",
             fontsize=14.4, fontweight="bold")
    fig.text(cap_xy[0] / W, 1 - cap_xy[1] / H, cap, ha="center", va="center",
             fontsize=12, fontweight="bold")
    return ax


def hmark(color, marker, lpx, lw=1.0, mfc="none", ms=5):
    # legend handle: dash - marker - dash
    lpt = lpx * 0.72
    return dict(color=color, lw=lw, marker=marker, mfc=mfc, ms=ms, mew=1.0,
                dashes=(0.36 * lpt / lw, 0.28 * lpt / lw))


# (a)
panel((71, 496, 5, 286), (-42.9, 38.2),
      [("sim_co", A_SIM_CO, SIM_CO, dict(color=RED, lw=1.0)),
       ("meas_co", A_MEAS_CO, dict(color=BLUE, lw=3.0, marker="o", ms=4.2, mew=0),
        hmark(BLUE, "o", 48, mfc=BLUE, ms=4)),
       ("sim_x", A_SIM_X, dict(color=RED, lw=0.8, marker="v", ms=3.8, mfc="none", mew=0.7),
        hmark(RED, "v", 48)),
       ("meas_x", A_MEAS_X, MEAS_X, dict(color=BLUE, lw=1.0, dashes=(4, 3)))],
      ["sim_co", "meas_co", "sim_x", "meas_x"],
      (73, 19, 14.4, 48, 307, 291), (23, 167), (283, 328), (262, 370), "(a)")

# (b)
panel((83, 505, 398, 672), (-45, 36.2),
      [("sim_co", B_SIM_CO, SIM_CO, dict(color=RED, lw=1.0)),
       ("meas_co", B_MEAS_CO, dict(color=BLUE, lw=2.2, marker="^", ms=4.2, mfc="none", mew=0.9),
        hmark(BLUE, "^", 44, ms=4)),
       ("sim_x", B_SIM_X, dict(color=RED, lw=0.8, marker="v", ms=3.8, mfc="none", mew=0.7),
        hmark(RED, "v", 44)),
       ("meas_x", B_MEAS_X, MEAS_X, dict(color=BLUE, lw=1.0, dashes=(4, 3)))],
      ["sim_co", "meas_co", "sim_x", "meas_x"],
      (86, 410, 13.5, 44, 296, 287), (33, 557), (295, 716), (262, 757), "(b)")

# (c)
panel((78, 509, 773, 1036), (-35, 34.2),
      [("sim_co", C_SIM_CO, dict(color=RED, lw=1.3), dict(color=RED, lw=1.3)),
       ("meas_co", C_MEAS_CO, dict(color=BLUE, lw=2.6, marker="^", ms=3.4, mfc="none", mew=0.9),
        hmark(BLUE, "^", 36, ms=3)),
       ("sim_x", C_SIM_X, dict(color=RED, lw=0.6, marker="o", ms=3.2, mfc="none", mew=0.8),
        hmark(RED, "o", 36, ms=3)),
       ("meas_x", C_MEAS_X, MEAS_X, dict(color=BLUE, lw=1.0, dashes=(4, 3)))],
      ["sim_co", "meas_co", "sim_x", "meas_x"],
      (79, 803, 14.8, 36, 295, 285), (23, 911), (294, 1085), (262, 1133), "(c)")

# (d)
panel((71, 496, 1159, 1421), (-35, 34.5),
      [("meas_co", D_MEAS_CO, dict(color=BLUE, lw=2.0, marker="o", ms=4.0, mfc="none", mew=0.9),
        hmark(BLUE, "o", 47, ms=4)),
       ("meas_x", D_MEAS_X, MEAS_X, dict(color=BLUE, lw=1.0, dashes=(4, 3))),
       ("sim_co", D_SIM_CO, dict(color=RED, lw=1.3), dict(color=RED, lw=1.3)),
       ("sim_x", D_SIM_X, dict(color=RED, lw=0.9, ls="--", marker="^", ms=3.8, mfc="none", mew=0.8),
        hmark(RED, "^", 47))],
      ["meas_co", "sim_co", "meas_x", "sim_x"],
      (74, 1185, 14.5, 47, 300, 290), (22, 1292), (283, 1470), (262, 1512), "(d)")

fig.savefig("out.png", dpi=100)
